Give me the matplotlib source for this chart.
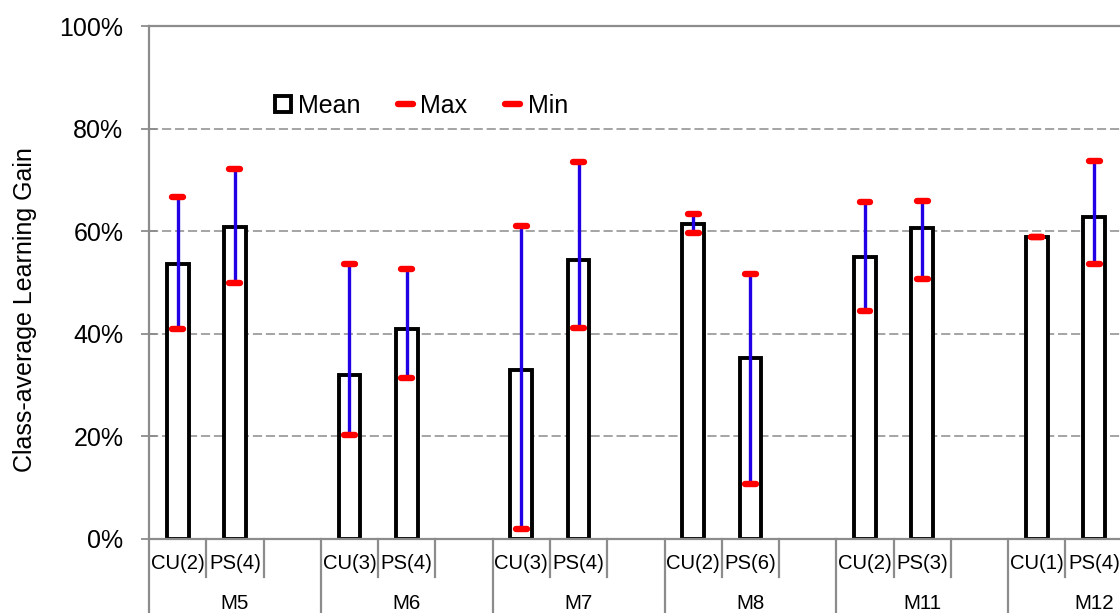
import matplotlib
matplotlib.use('Agg')
import matplotlib.pyplot as plt
import matplotlib.transforms as mtransforms
from matplotlib.lines import Line2D

plt.rcParams['font.family'] = ['Liberation Sans', 'DejaVu Sans']

# Dados (%)
grupos = ['M5', 'M6', 'M7', 'M8', 'M11', 'M12']
categorias = ['CU(2)', 'PS(4)', 'CU(3)', 'PS(4)', 'CU(3)', 'PS(4)',
              'CU(2)', 'PS(6)', 'CU(2)', 'PS(3)', 'CU(1)', 'PS(4)']
media = [53.7, 60.8, 32.0, 40.9, 32.9, 54.3, 61.5, 35.3, 55.0, 60.7, 58.8, 62.8]
maximo = [66.6, 72.2, 53.7, 52.6, 61.1, 73.4, 63.4, 51.6, 65.6, 65.9, 58.8, 73.7]
minimo = [40.9, 50.0, 20.3, 31.3, 1.9, 41.1, 59.6, 10.7, 44.4, 50.7, 58.8, 53.6]

cinza = '#8c8c8c'
azul = '#2200e6'
vermelho = '#ff0000'

fig = plt.figure(figsize=(11.2, 6.13), dpi=100)
# eixo se estende além da borda direita (gráfico cortado no original)
ax = fig.add_axes([149 / 1120, 1 - 539 / 613, 1031 / 1120, 513 / 613])

# posição de cada barra: 3 espaços por grupo (CU, PS, vazio)
pos = [3 * (i // 2) + (i % 2) + 0.5 for i in range(len(media))]
esq = [p - 0.095 for p in pos]
dir_ = [p + 0.095 for p in pos]

ax.bar(pos, media, width=0.38, facecolor='white', edgecolor='black',
       linewidth=2.8, zorder=2)
ax.vlines(pos, minimo, maximo, color=azul, linewidth=2.4, zorder=3)
ax.hlines(maximo, esq, dir_, color=vermelho, linewidth=4.6,
          capstyle='round', zorder=4)
ax.hlines(minimo, esq, dir_, color=vermelho, linewidth=4.6,
          capstyle='round', zorder=4)

ax.set_xlim(0, 18)
ax.set_ylim(0, 100)
ax.set_yticks(range(0, 101, 20))
ax.set_yticklabels([f'{v}%' for v in range(0, 101, 20)], fontsize=18)
ax.set_xticks([])
ax.tick_params(axis='y', direction='inout', length=11, width=1.3,
               color=cinza, pad=13)

for v in range(20, 100, 20):
    ax.axhline(v, color=cinza, linewidth=1.1, linestyle=(0, (6, 2.5)), zorder=1)

for lado in ['left', 'bottom', 'top']:
    ax.spines[lado].set_color(cinza)
    ax.spines[lado].set_linewidth(1.6)
ax.spines['right'].set_visible(False)

# rótulos de categoria em dois níveis
trans = mtransforms.blended_transform_factory(ax.transData, ax.transAxes)
for g, nome in enumerate(grupos):
    x0 = 3 * g
    ax.plot([x0, x0], [0, -0.2], color=cinza, linewidth=1.6,
            transform=trans, clip_on=False)
    for k in (1, 2):
        ax.plot([x0 + k, x0 + k], [0, -0.074], color=cinza, linewidth=1.6,
                transform=trans, clip_on=False)
    ax.text(x0 + 1.5, -0.126, nome, transform=trans, ha='center',
            va='center', fontsize=14.8)
for i, cat in enumerate(categorias):
    ax.text(pos[i], -0.047, cat, transform=trans, ha='center',
            va='center', fontsize=14.6)

fig.text(25 / 1120, 1 - 310 / 613, 'Class-average Learning Gain',
         rotation=90, ha='center', va='center', fontsize=18)

# legenda
h_media = Line2D([], [], linestyle='none', marker='s', markersize=11,
                 markerfacecolor='white', markeredgecolor='black',
                 markeredgewidth=2.8)
h_max = Line2D([], [], color=vermelho, linewidth=4.6, solid_capstyle='round')
h_min = Line2D([], [], color=vermelho, linewidth=4.6, solid_capstyle='round')
fig.legend([h_media, h_max, h_min], ['Mean', 'Max', 'Min'], ncol=3,
           loc='center left', bbox_to_anchor=(263 / 1120, 1 - 106 / 613),
           frameon=False, fontsize=18, handlelength=0.6,
           handletextpad=0.3, columnspacing=1.5, borderpad=0)

fig.savefig('out.png', dpi=100)
